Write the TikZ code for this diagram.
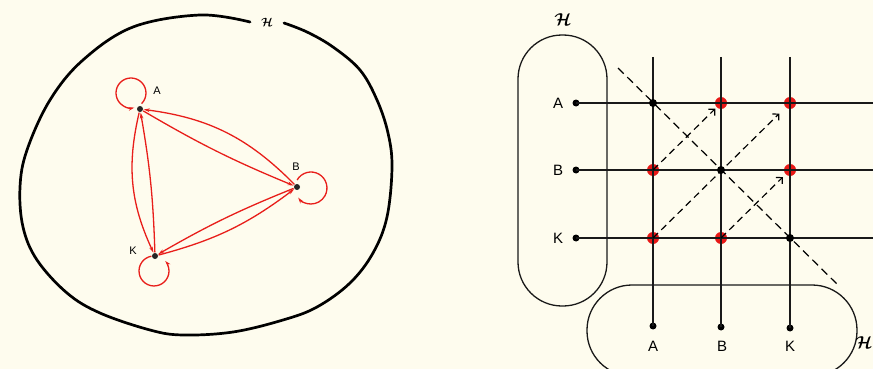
\documentclass[tikz,border=0pt]{standalone}
\usepackage{fontspec}
\setmainfont{Liberation Sans}
\usepackage{amsmath,bm}
\usetikzlibrary{arrows.meta}
\definecolor{cream}{RGB}{254,252,238}
\definecolor{lred}{RGB}{232,30,26}
\definecolor{dotred}{RGB}{232,24,22}
\begin{document}
\begin{tikzpicture}[x=1pt,y=1pt,
  ldot/.style={circle,fill=black!85,inner sep=0pt,minimum size=6pt},
  llabel/.style={font=\fontsize{11}{12}\selectfont},
  redge/.style={draw=lred,line width=1.3pt,-{Stealth[length=6pt,width=3.6pt]},shorten >=0.5pt,shorten <=0.5pt},
  rloop/.style={draw=lred,line width=1.3pt,-{Stealth[length=6pt,width=3.6pt]}},
  bdot/.style={circle,fill=black,inner sep=0pt,minimum size=8pt},
  edot/.style={circle,fill=black,inner sep=0pt,minimum size=7pt},
  reddot/.style={circle,fill=dotred,inner sep=0pt,minimum size=12pt},
  gridline/.style={line width=1.2pt,black!90},
  rlabel/.style={font=\fontsize{15}{17}\selectfont},
  darrow/.style={line width=1.2pt,dash pattern=on 7pt off 4.5pt,-{Straight Barb[length=4.5pt,width=9pt]}},
  stadium/.style={line width=1.3pt,black!90},
  hlabel/.style={font=\fontsize{17}{18}\selectfont}
]
\clip (0,0) rectangle (873,-369);
\fill[cream] (0,0) rectangle (873,-369);

% ---------------- left picture ----------------
\draw[line width=2.7pt,line cap=round] plot[smooth,tension=0.6] coordinates {
 (250,-22) (200,-15) (133,-27) (83,-60) (50,-100) (27,-150) (20,-187) (23,-227)
 (37,-260) (67,-293) (100,-313) (150,-330) (183,-335) (233,-332) (283,-320)
 (317,-307) (350,-283) (373,-253) (387,-217) (392,-167) (388,-133) (377,-100)
 (360,-70) (333,-47) (307,-32) (284,-23)};
\node[font=\fontsize{13}{14}\selectfont] (H1) at (267,-22) {$\bm{\mathcal{H}}$};

\node[ldot] (A) at (140,-109) {};
\node[ldot] (B) at (297,-187) {};
\node[ldot] (K) at (155,-256) {};
\node[llabel] (lA) at (157,-91) {A};
\node[llabel] (lB) at (296,-167) {B};
\node[llabel] (lK) at (133,-251) {K};

\draw[redge] (B) to[bend right=19] (A);
\draw[redge] (A) to[bend right=4] (B);
\draw[redge] (A) to[bend right=19] (K);
\draw[redge] (K) to[bend right=4] (A);
\draw[redge] (B) to[bend right=4] (K);
\draw[redge] (K) to[bend right=11] (B);

% self loops
\draw[rloop] ([shift={(1.6,5.4)}]A.center) arc[start angle=-45,end angle=283,radius=15];
\draw[rloop] ([shift={(0.1,7)}]B.center) arc[start angle=150,end angle=-143,radius=16];
\draw[rloop] ([shift={(-3.6,-0.2)}]K.center) arc[start angle=100,end angle=402,radius=15];

% ---------------- right picture ----------------
\draw[stadium,rounded corners=44pt] (518,-35) rectangle (607,-306);
\draw[stadium,rounded corners=45pt] (587,-285) rectangle (857,-376);
\node[hlabel] (H2) at (563,-20) {$\bm{\mathcal{H}}$};
\node[hlabel] (H3) at (864,-343) {$\bm{\mathcal{H}}$};

% red crossing dots (under the lines)
\node[reddot] (AB) at (721,-103) {};
\node[reddot] (AK) at (790,-103) {};
\node[reddot] (BA) at (653,-170) {};
\node[reddot] (BK) at (790,-170) {};
\node[reddot] (KA) at (653,-238) {};
\node[reddot] (KB) at (721,-238) {};

% end dots
\node[edot] (LA) at (576,-103) {};
\node[edot] (LB) at (576,-170) {};
\node[edot] (LK) at (576,-238) {};
\node[edot] (DA) at (653,-326) {};
\node[edot] (DB) at (721,-327) {};
\node[edot] (DK) at (790,-328) {};
\coordinate (TA) at (653,-57);
\coordinate (TB) at (721,-57);
\coordinate (TK) at (790,-57);
\coordinate (RA) at (874,-103);
\coordinate (RB) at (874,-170);
\coordinate (RK) at (874,-238);

\draw[gridline] (LA.center) -- (RA);
\draw[gridline] (LB.center) -- (RB);
\draw[gridline] (LK.center) -- (RK);
\draw[gridline] (TA) -- (DA.center);
\draw[gridline] (TB) -- (DB.center);
\draw[gridline] (TK) -- (DK.center);

% diagonal dots
\node[bdot] (AA) at (653,-103) {};
\node[bdot] (BB) at (721,-170) {};
\node[bdot] (KK) at (790,-238) {};

\coordinate (D1) at (618,-68);
\coordinate (D2) at (840,-287);
\draw[line width=1.2pt,dash pattern=on 8pt off 5pt] (D1) -- (D2);

\draw[darrow,shorten >=8pt] (BA.center) -- (AB.center);
\draw[darrow,shorten >=15pt] (KA.center) -- (AK.center);
\draw[darrow,shorten >=10pt] (KB.center) -- (BK.center);

\node[rlabel] (tA) at (558,-103) {A};
\node[rlabel] (tB) at (558,-170) {B};
\node[rlabel] (tK) at (558,-238) {K};
\node[rlabel] (bA) at (653,-346) {A};
\node[rlabel] (bB) at (722,-346) {B};
\node[rlabel] (bK) at (790,-346) {K};
\end{tikzpicture}
\end{document}
